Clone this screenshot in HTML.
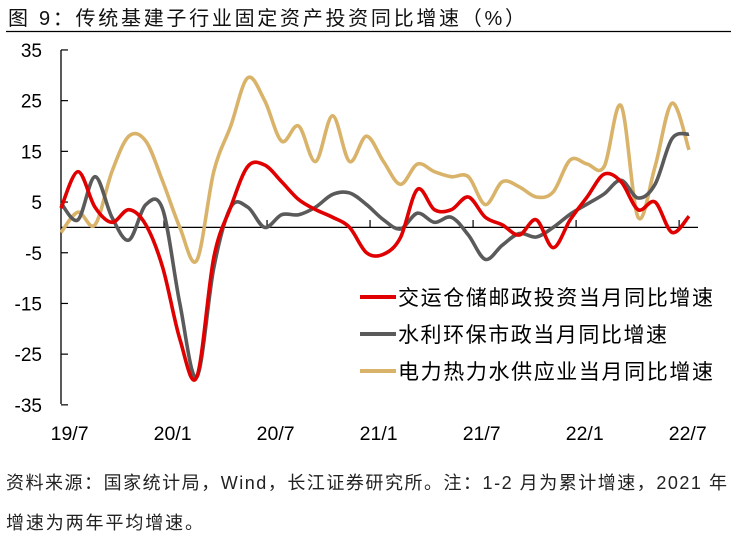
<!DOCTYPE html>
<html><head><meta charset="utf-8"><style>
body{margin:0;background:#fff;width:731px;height:540px;overflow:hidden;font-family:"Liberation Sans","Noto Sans CJK SC",sans-serif}
</style></head><body>
<svg id="chart" width="731" height="540" style="position:absolute;left:0;top:0;font-family:'Liberation Sans','Noto Sans CJK SC',sans-serif"></svg>
<script>
const monthLabels=["19/7","20/1","20/7","21/1","21/7","22/1","22/7"];
const yTicks=[35,25,15,5,-5,-15,-25,-35];
const redValues=[3.8,11,4,1,3.5,0.5,-8,-22,-29.5,-6,4,12,12.3,9,5.5,3.5,2,0,-5,-5.3,-2,7.5,3.5,3.5,6,2,0.5,-1.5,1.5,-4,1.5,6,10.5,9,3.5,5,-1,2.2];
const grayValues=[4.8,1.5,10,2,-2.5,4.5,3.5,-15,-29.5,-8,4,4,0,2.5,2.5,4,6.5,6.8,4.5,1.5,-0.3,2.8,1,2,-1.5,-6.3,-3.5,-1.2,-1.9,0,2.6,4.6,6.6,9.3,5.8,8.5,17.5,18.4];
const goldValues=[-1,3,0.5,11,18,17,9,0,-6.5,11,20,29.5,25,17,20,13,22,13,18,13,8.5,12.5,11,10,10,4.5,9,8,6,7,13.3,12.5,12,24,2,12,24.5,15.3];
const seriesNames=["交运仓储邮政投资当月同比增速","水利环保市政当月同比增速","电力热力水供应业当月同比增速"];
const legendWidths=[315,269,315];
const NS="http://www.w3.org/2000/svg";
const svg=document.getElementById('chart');
function mk(t,a,p){const e=document.createElementNS(NS,t);for(const k in a)e.setAttribute(k,a[k]);(p||svg).appendChild(e);return e;}
const X0=61,X1=689,N=redValues.length;
const xs=i=>X0+i*(X1-X0)/(N-1);
const ys=v=>227.4-v*5.07;
let t=mk('text',{x:8,y:25,'font-size':20,fill:'#111',textLength:517,lengthAdjust:'spacing'});t.textContent="图 9：传统基建子行业固定资产投资同比增速（%）";

let tl=mk('line',{x1:6,x2:731,y1:31.5,y2:31.5,stroke:'#000','stroke-width':1.2});

let ya=mk('line',{x1:61,y1:50,x2:61,y2:404,stroke:'#000','stroke-width':1.3});

yTicks.forEach(v=>{mk('line',{x1:61,x2:68,y1:ys(v),y2:ys(v),stroke:'#000','stroke-width':1.2});
 let l=mk('text',{x:42,y:ys(v)+7,'font-size':19,'text-anchor':'end',fill:'#000'});l.textContent=v;
 });
let xa=mk('line',{x1:61,y1:227.4,x2:698,y2:227.4,stroke:'#000','stroke-width':1.3});

monthLabels.forEach((m,k)=>{const cx=69.6+k*6*17.17;
 if(k>0)mk('line',{x1:cx-8.6,x2:cx-8.6,y1:220,y2:227.4,stroke:'#000','stroke-width':1.2});
 let l=mk('text',{x:cx,y:440,'font-size':19.5,'text-anchor':'middle',fill:'#000'});l.textContent=m;
 });
function path(vals){const p=vals.map((v,i)=>[xs(i),ys(v)]);let d='M'+p[0][0]+','+p[0][1];
 for(let i=0;i<p.length-1;i++){const a=p[Math.max(i-1,0)],b=p[i],c=p[i+1],e=p[Math.min(i+2,p.length-1)];
 d+=' C'+(b[0]+(c[0]-a[0])/6)+','+(b[1]+(c[1]-a[1])/6)+' '+(c[0]-(e[0]-b[0])/6)+','+(c[1]-(e[1]-b[1])/6)+' '+c[0]+','+c[1];}
 return d;}
const cols=['#E00000','#5A5A5A','#D9B36A'];
[[goldValues,2,'line-power-heat-water'],[grayValues,1,'line-water-env-municipal'],[redValues,0,'line-transport-storage']].forEach(([vals,ci,name])=>{
 let p=mk('path',{d:path(vals),fill:'none',stroke:cols[ci],'stroke-width':3.6,'stroke-linejoin':'round'});
 });
seriesNames.forEach((s,k)=>{const y=297+k*37;
 let g=mk('g',{});
 mk('line',{x1:360,x2:396,y1:y,y2:y,stroke:cols[k],'stroke-width':4},g);
 let l=mk('text',{x:398,y:y+8,'font-size':21,fill:'#000',textLength:legendWidths[k],lengthAdjust:'spacing'},g);l.textContent=s;});
let f1=mk('text',{x:6,y:489,'font-size':18,fill:'#222',textLength:721,lengthAdjust:'spacing'});f1.textContent="资料来源：国家统计局，Wind，长江证券研究所。注：1-2 月为累计增速，2021 年";

let f2=mk('text',{x:6,y:529,'font-size':18,fill:'#222',textLength:197,lengthAdjust:'spacing'});f2.textContent="增速为两年平均增速。";

</script>
</body></html>
